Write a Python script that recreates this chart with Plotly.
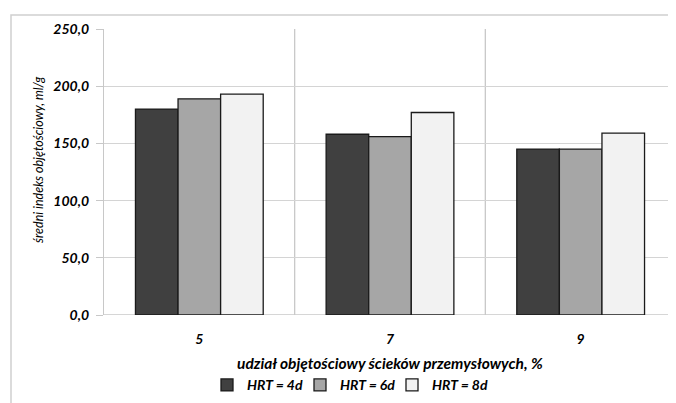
import plotly.graph_objects as go

categories = ["5", "7", "9"]
series_names = ["HRT = 4d", "HRT = 6d", "HRT = 8d"]
hrt4 = [180.0, 158.0, 145.0]
hrt6 = [189.0, 156.0, 145.0]
hrt8 = [193.0, 177.0, 159.0]
y_ticks = [0, 50, 100, 150, 200, 250]
y_tick_labels = ["0,0", "50,0", "100,0", "150,0", "200,0", "250,0"]

colors = ["#404040", "#a6a6a6", "#f2f2f2"]
FONT = "Lato"

# page has an 8px body margin; figure coordinates = page coordinates - 8
L, T = 96, 21
PW, PH = 572, 286

legend_keys = ["legend", "legend2", "legend3"]
legend_square_page_x = [222, 315, 407]

fig = go.Figure()
for name, vals, col, lk in zip(series_names, [hrt4, hrt6, hrt8], colors, legend_keys):
    fig.add_trace(go.Bar(
        x=list(range(len(categories))), y=vals, name=name, legend=lk,
        marker=dict(color=col, line=dict(color="#1a1a1a", width=1.3)),
    ))

legend_font = dict(family=FONT, size=14, color="#000000", style="italic", weight="bold")
legend_layout = {}
for lk, sx in zip(legend_keys, legend_square_page_x):
    legend_layout[lk] = dict(orientation="h", x=(sx - 15 - 104) / PW, xanchor="left",
                             y=-0.246, yanchor="middle", font=legend_font, itemwidth=30,
                             bgcolor="rgba(0,0,0,0)")

fig.update_layout(
    width=668, height=395,
    margin=dict(l=L, r=0, t=T, b=88),
    paper_bgcolor="white", plot_bgcolor="white",
    barmode="group", bargap=0.33, bargroupgap=0,
    showlegend=True,
    font=dict(family=FONT, color="#000000"),
    **legend_layout,
)

fig.update_xaxes(
    range=[-0.5, 2.5], tickmode="array", tickvals=list(range(len(categories))), ticktext=categories,
    showgrid=False, zeroline=False, showline=False, ticks="",
    tickfont=dict(family=FONT, size=14, style="italic", weight="bold"),
    ticklabelstandoff=14,
)
fig.update_yaxes(
    range=[0, 250], tickmode="array", tickvals=y_ticks, ticktext=y_tick_labels,
    showgrid=True, gridcolor="#d4d4d4", gridwidth=1.3,
    zeroline=False, showline=True, linecolor="#c8c8c8", linewidth=1.3,
    ticks="outside", ticklen=7, tickcolor="#c8c8c8", tickwidth=1.3,
    tickfont=dict(family=FONT, size=14, style="italic", weight="bold"),
    ticklabelstandoff=4,
)

for xv in [0.5, 1.5]:
    fig.add_shape(type="line", xref="x", yref="paper", x0=xv, x1=xv, y0=0, y1=1,
                  line=dict(color="#c8c8c8", width=1.3), layer="below")
fig.add_shape(type="line", xref="paper", yref="y", x0=0, x1=1, y0=0, y1=0,
              line=dict(color="#c8c8c8", width=1.3), layer="below")

# outer chart frame (page x=11, y=15)
fig.add_shape(type="rect", xref="paper", yref="paper",
              x0=(3 - L) / PW, x1=1.05, y0=-0.5, y1=1 + (T - 7) / PH,
              line=dict(color="#d0d0d0", width=1.5), layer="below")

fig.add_annotation(text="średni indeks objętościowy, ml/g", xref="paper", yref="paper",
                   x=(30 - L) / PW, y=(307 - 152) / PH, textangle=-90, showarrow=False,
                   xanchor="center", yanchor="middle",
                   font=dict(family=FONT, size=12.5, style="italic", color="#000000"))
fig.add_annotation(text="udział objętościowy ścieków przemysłowych, %", xref="paper", yref="paper",
                   x=(382 - L) / PW, y=-(355 - 307) / PH, showarrow=False,
                   xanchor="center", yanchor="middle",
                   font=dict(family=FONT, size=15.5, style="italic", weight="bold", color="#000000"))

fig.write_html("out.html")
